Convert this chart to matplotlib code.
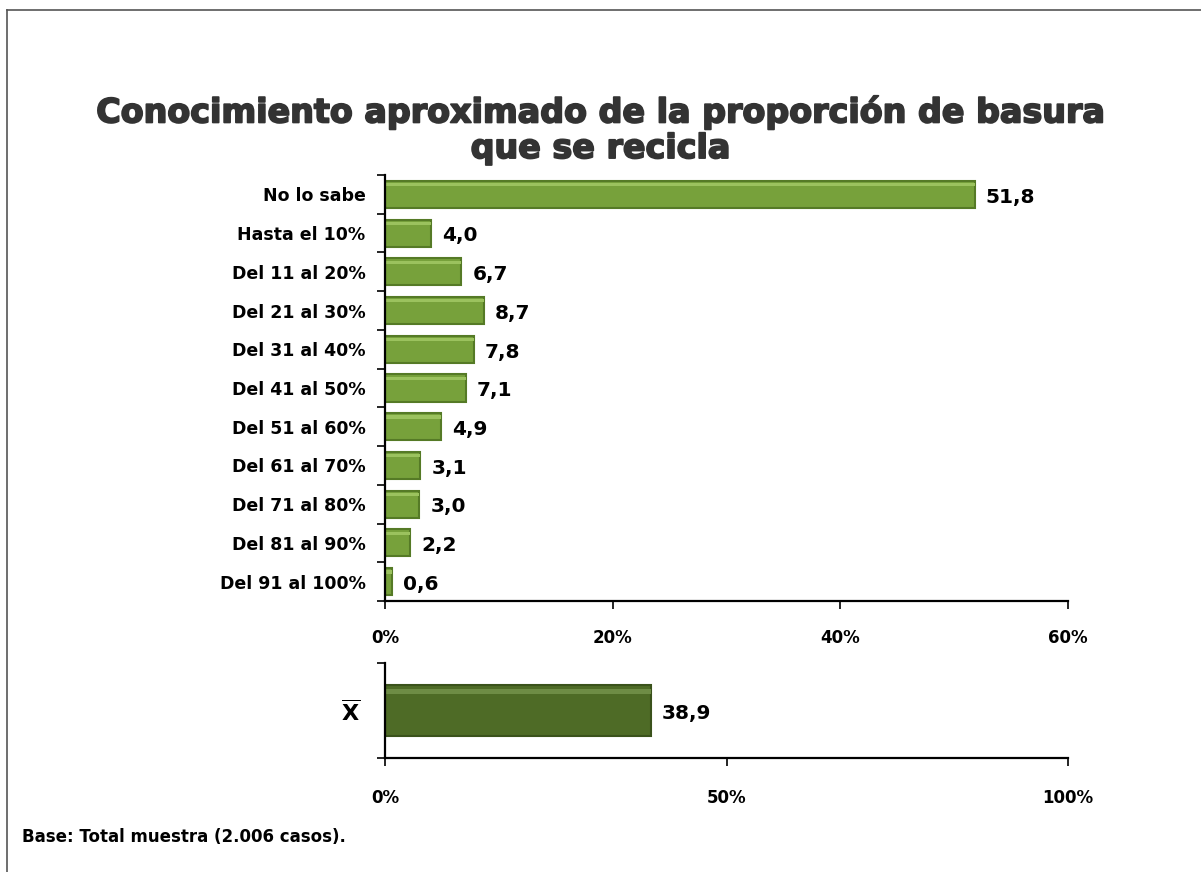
import numpy as np
import matplotlib.pyplot as plt
import matplotlib.patheffects as pe

# === Data ===
categories = ['No lo sabe', 'Hasta el 10%', 'Del 11 al 20%', 'Del 21 al 30%',
              'Del 31 al 40%', 'Del 41 al 50%', 'Del 51 al 60%', 'Del 61 al 70%',
              'Del 71 al 80%', 'Del 81 al 90%', 'Del 91 al 100%']
values = [51.8, 4.0, 6.7, 8.7, 7.8, 7.1, 4.9, 3.1, 3.0, 2.2, 0.6]
top_ticks = [0, 20, 40, 60]

mean_label = [r'$\overline{\mathbf{X}}$']
mean_value = [38.9]
mean_ticks = [0, 50, 100]

title = 'Conocimiento aproximado de la proporción de basura\nque se recicla'
footer = 'Base: Total muestra (2.006 casos).'

bar_color = '#77A13B'
bar_edge = '#557A26'
mean_color = '#4E6B26'
mean_edge = '#3A521B'

plt.rcParams['font.family'] = ['DejaVu Sans']
plt.rcParams['font.weight'] = 'bold'
plt.rcParams['mathtext.fontset'] = 'dejavusans'

W, H = 1201, 872
fig = plt.figure(figsize=(W / 100, H / 100), dpi=100)

def fx(px):
    return px / W

def fy(py):
    return 1 - py / H

# frame (top and left edges)
fig.add_artist(plt.Line2D([fx(7), fx(7)], [fy(10), fy(872)], color='#555555', lw=1.2))
fig.add_artist(plt.Line2D([fx(7), fx(1201)], [fy(10), fy(10)], color='#555555', lw=1.2))

t = fig.text(0.5, fy(130), title, ha='center', va='center', fontsize=24,
             fontweight='bold', color='#333333', linespacing=1.1)
# thicken the title strokes a bit (reference uses a heavier face)
t.set_path_effects([pe.withStroke(linewidth=1.3, foreground='#333333')])


def style_axes(ax, labels, ticks, fmt):
    n = len(labels)
    ax.set_ylim(n - 0.5, -0.5)
    ax.set_yticks(np.arange(n))
    ax.set_yticklabels(labels)
    ax.set_yticks(np.arange(n + 1) - 0.5, minor=True)
    ax.tick_params(axis='y', which='major', length=0, pad=14)
    ax.tick_params(axis='y', which='minor', length=6, width=1.2, direction='out')
    ax.set_xticks(ticks)
    ax.set_xticklabels([fmt.format(t) for t in ticks])
    ax.tick_params(axis='x', length=6, width=1.2, direction='out', pad=14, labelsize=12)
    for s in ['top', 'right']:
        ax.spines[s].set_visible(False)
    for s in ['left', 'bottom']:
        ax.spines[s].set_linewidth(1.6)
        ax.spines[s].set_color('black')
    for lbl in ax.get_xticklabels() + ax.get_yticklabels():
        lbl.set_fontweight('bold')


# === Top chart ===
ax1 = fig.add_axes([fx(385), fy(601), fx(1068) - fx(385), fy(175) - fy(601)])
y = np.arange(len(categories))
ax1.barh(y, values, height=0.7, color=bar_color, edgecolor=bar_edge, linewidth=1.5)
# light highlight along the top of each bar
ax1.barh(y - 0.25, values, height=0.08, color='#9BC25E', linewidth=0)
ax1.set_xlim(0, 60)
style_axes(ax1, categories, top_ticks, '{}%')
ax1.tick_params(axis='y', labelsize=12.5)
for yi, v in zip(y, values):
    ax1.annotate(f'{v:.1f}'.replace('.', ','), (v, yi), xytext=(8, -2),
                 textcoords='offset points', ha='left', va='center',
                 fontsize=14.5, fontweight='bold')

# === Mean chart ===
ax2 = fig.add_axes([fx(385), fy(758), fx(1068) - fx(385), fy(663) - fy(758)])
ym = np.arange(len(mean_value))
ax2.barh(ym, mean_value, height=0.54, color=mean_color, edgecolor=mean_edge, linewidth=1.5)
ax2.barh(ym - 0.2, mean_value, height=0.05, color='#6E8C45', linewidth=0)
ax2.set_xlim(0, 100)
style_axes(ax2, mean_label, mean_ticks, '{}%')
ax2.tick_params(axis='y', labelsize=16, pad=18)
ax2.tick_params(axis='x', pad=16)
for yi, v in zip(ym, mean_value):
    ax2.annotate(f'{v:.1f}'.replace('.', ','), (v, yi), xytext=(8, -2),
                 textcoords='offset points', ha='left', va='center',
                 fontsize=14.5, fontweight='bold')

fig.text(fx(22), fy(837), footer, ha='left', va='center', fontsize=12,
         fontweight='bold', color='black')

fig.savefig('out.png', dpi=100)
